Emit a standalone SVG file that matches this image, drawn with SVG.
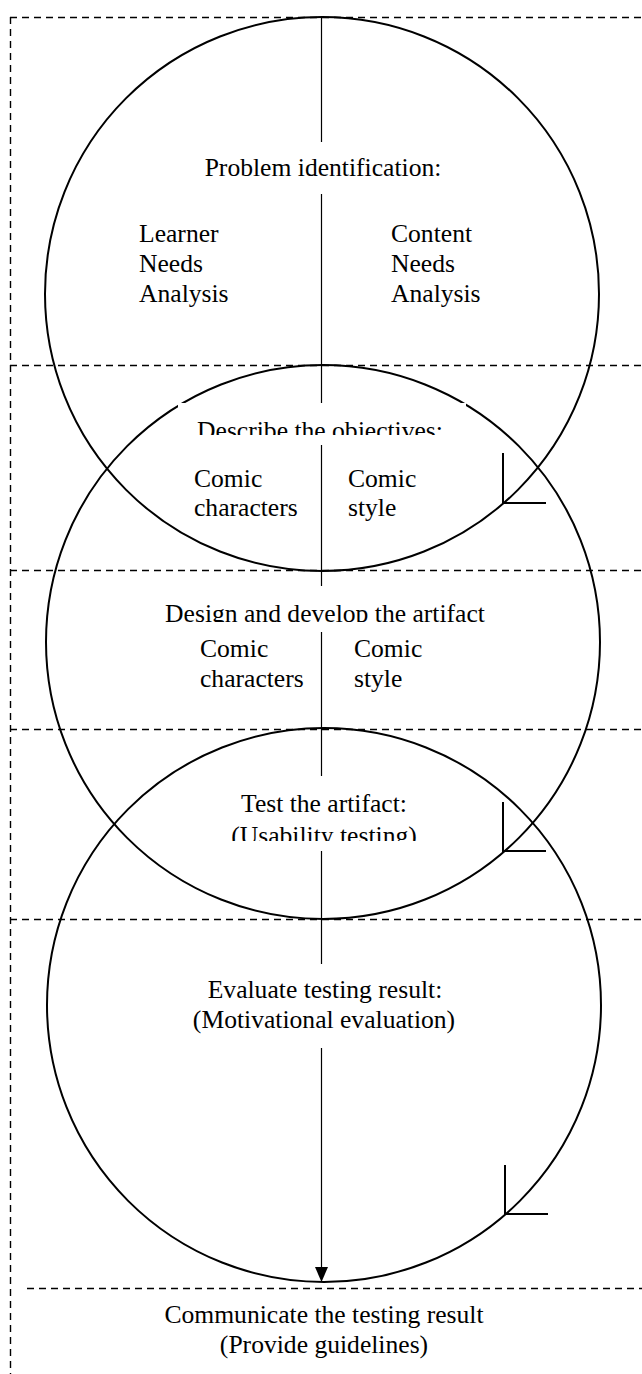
<svg xmlns="http://www.w3.org/2000/svg" width="642" height="1374" viewBox="0 0 642 1374">
<style>
.dash{stroke:#000;stroke-width:1.4;stroke-dasharray:7 5;fill:none}
.circ{stroke:#000;stroke-width:2;fill:none}
.flow{stroke:#000;stroke-width:1.2;fill:none}
.tick{stroke:#000;stroke-width:2;fill:none}
.bg{fill:#fff;stroke:none}
text{font-family:"Liberation Serif","Times New Roman",serif;font-size:25.6px;fill:#000}
.c{text-anchor:middle}
</style>
<defs>
<clipPath id="clipDescribe"><rect x="170" y="400" width="300" height="35"/></clipPath>
<clipPath id="clipDesign"><rect x="150" y="580" width="350" height="42"/></clipPath>
<clipPath id="clipTest"><rect x="200" y="770" width="250" height="71"/></clipPath>
</defs>

<g id="frame">
<line class="dash" x1="10" y1="17.5" x2="642" y2="17.5"/>
<line class="dash" x1="10.5" y1="17" x2="10.5" y2="1374"/>
<line class="dash" x1="10" y1="365.5" x2="642" y2="365.5"/>
<line class="dash" x1="10" y1="570.5" x2="642" y2="570.5"/>
<line class="dash" x1="10" y1="729.5" x2="642" y2="729.5"/>
<line class="dash" x1="10" y1="919.5" x2="642" y2="919.5"/>
<line class="dash" x1="27" y1="1288.5" x2="642" y2="1288.5"/>
</g>

<g id="circle-problem"><circle class="circ" cx="322" cy="294" r="277"/></g>
<g id="circle-design"><circle class="circ" cx="323" cy="642" r="277"/></g>
<g id="circle-evaluate"><circle class="circ" cx="324" cy="1005" r="277"/></g>

<g id="connectors">
<path d="M321.5,17 V1268" class="flow"/>
<path d="M315,1267 L328,1267 L321.5,1282 Z" fill="#000"/>
<path class="tick" d="M503,453 V503 H546"/>
<path class="tick" d="M503,802 V851 H546"/>
<path class="tick" d="M505,1165 V1214 H548"/>
</g>

<g id="node-problem">
<rect class="bg" x="200" y="142" width="246" height="52"/>
<text class="c" x="323" y="176">Problem identification:</text>
<text x="139" y="242">Learner</text>
<text x="139" y="272">Needs</text>
<text x="139" y="302">Analysis</text>
<text x="391" y="242">Content</text>
<text x="391" y="272">Needs</text>
<text x="391" y="302">Analysis</text>
</g>

<g id="node-objectives">
<rect class="bg" x="178" y="403" width="288" height="42"/>
<text class="c" x="320" y="439" clip-path="url(#clipDescribe)">Describe the objectives:</text>
<text x="194" y="487">Comic</text>
<text x="194" y="516">characters</text>
<text x="348" y="487">Comic</text>
<text x="348" y="516">style</text>
</g>

<g id="node-design">
<rect class="bg" x="160" y="586" width="330" height="46"/>
<text class="c" x="325" y="622" clip-path="url(#clipDesign)">Design and develop the artifact</text>
<text x="200" y="657">Comic</text>
<text x="200" y="687">characters</text>
<text x="354" y="657">Comic</text>
<text x="354" y="687">style</text>
</g>

<g id="node-test">
<rect class="bg" x="226" y="776" width="196" height="75"/>
<text class="c" x="324" y="812">Test the artifact:</text>
<text class="c" x="324" y="844" clip-path="url(#clipTest)">(Usability testing)</text>
</g>

<g id="node-evaluate">
<rect class="bg" x="188" y="964" width="272" height="84"/>
<text class="c" x="325" y="998">Evaluate testing result:</text>
<text class="c" x="324" y="1028">(Motivational evaluation)</text>
</g>

<g id="node-communicate">
<text class="c" x="324" y="1323">Communicate the testing result</text>
<text class="c" x="324" y="1353">(Provide guidelines)</text>
</g>
</svg>
